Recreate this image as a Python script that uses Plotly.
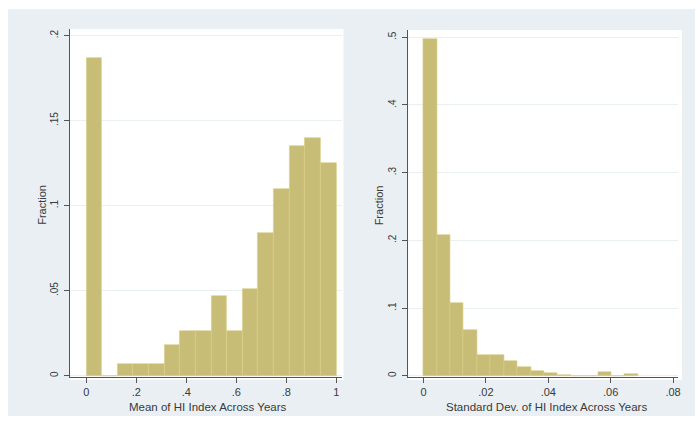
import plotly.graph_objects as go

# ---------------- data ----------------
mean_bin_left = [0.0, 0.0625, 0.125, 0.1875, 0.25, 0.3125, 0.375, 0.4375,
                 0.5, 0.5625, 0.625, 0.6875, 0.75, 0.8125, 0.875, 0.9375]
mean_bin_width = 0.0625
mean_fraction = [0.187, 0.0, 0.0067, 0.0067, 0.0067, 0.018, 0.026, 0.026,
                 0.047, 0.026, 0.051, 0.084, 0.110, 0.135, 0.140, 0.125]

sd_bin_left = [0.0, 0.0043, 0.0086, 0.0129, 0.0172, 0.0215, 0.0258, 0.0301,
               0.0344, 0.0387, 0.0430, 0.0473, 0.0516, 0.0559, 0.0602, 0.0645]
sd_bin_width = 0.0043
sd_fraction = [0.497, 0.208, 0.107, 0.068, 0.030, 0.030, 0.022, 0.013,
               0.0074, 0.004, 0.001, 0.0, 0.0, 0.006, 0.0, 0.003]

mean_xticks = [0, 0.2, 0.4, 0.6, 0.8, 1.0]
mean_xlabels = ["0", ".2", ".4", ".6", ".8", "1"]
mean_yticks = [0, 0.05, 0.1, 0.15, 0.2]
mean_ylabels = ["0", ".05", ".1", ".15", ".2"]

sd_xticks = [0, 0.02, 0.04, 0.06, 0.08]
sd_xlabels = ["0", ".02", ".04", ".06", ".08"]
sd_yticks = [0, 0.1, 0.2, 0.3, 0.4, 0.5]
sd_ylabels = ["0", ".1", ".2", ".3", ".4", ".5"]

# ---------------- style ----------------
W, H = 698, 423
BAR = "#c8bd77"
BAR_LINE = "#d8cf88"
BG = "#e9eff2"
GRID = "#eaeff2"
AXIS = "#555555"
TXT = "#3a3a3a"
FONT = "Liberation Sans"

def xdom(a, b):
    return [a / W, b / W]

def ydom(top, bottom):
    return [1 - bottom / H, 1 - top / H]

fig = go.Figure()
fig.add_trace(go.Bar(x=mean_bin_left, y=mean_fraction, width=mean_bin_width,
                     offset=0, marker=dict(color=BAR, line=dict(color=BAR_LINE, width=0.6)),
                     xaxis="x", yaxis="y", showlegend=False))
fig.add_trace(go.Bar(x=sd_bin_left, y=sd_fraction, width=sd_bin_width,
                     offset=0, marker=dict(color=BAR, line=dict(color=BAR_LINE, width=0.6)),
                     xaxis="x2", yaxis="y2", showlegend=False))

common_x = dict(showline=True, linecolor=AXIS, linewidth=1, ticks="outside",
                ticklen=5, tickcolor=AXIS, showgrid=False, zeroline=False,
                tickfont=dict(family=FONT, size=11, color=TXT))
common_y = dict(showline=True, linecolor=AXIS, linewidth=1, ticks="outside",
                ticklen=5, tickcolor=AXIS, showgrid=True, gridcolor=GRID,
                gridwidth=1, zeroline=False, tickangle=-90, ticklabelstandoff=2,
                tickfont=dict(family=FONT, size=10, color=TXT))

fig.update_layout(
    width=W, height=H, margin=dict(l=0, r=0, t=0, b=0),
    paper_bgcolor="white", plot_bgcolor="white", bargap=0,
    xaxis=dict(domain=xdom(70, 343), range=[-0.0665, 1.021], anchor="y",
               tickvals=mean_xticks, ticktext=mean_xlabels, **common_x),
    yaxis=dict(domain=ydom(29, 377), range=[-0.0008, 0.2039], anchor="x",
               tickvals=mean_yticks, ticktext=mean_ylabels, **common_y),
    xaxis2=dict(domain=xdom(410, 681), range=[-0.00488, 0.0816], anchor="y2",
                tickvals=sd_xticks, ticktext=sd_xlabels, **common_x),
    yaxis2=dict(domain=ydom(30, 377), range=[-0.0019, 0.5108], anchor="x2",
                tickvals=sd_yticks, ticktext=sd_ylabels, **common_y),
    shapes=[
        dict(type="rect", xref="paper", yref="paper", layer="below",
             x0=8 / W, x1=1, y0=1 - 416 / H, y1=1 - 9 / H,
             fillcolor=BG, line=dict(width=0)),
        dict(type="rect", xref="paper", yref="paper", layer="below",
             x0=70 / W, x1=345 / W, y0=1 - 380 / H, y1=1 - 29 / H,
             fillcolor="white", line=dict(width=0)),
        dict(type="rect", xref="paper", yref="paper", layer="below",
             x0=410 / W, x1=685 / W, y0=1 - 380 / H, y1=1 - 30 / H,
             fillcolor="white", line=dict(width=0)),
    ],
    annotations=[
        dict(text="Mean of HI Index Across Years", xref="paper", yref="paper",
             x=209 / W, y=1 - 407 / H, showarrow=False, xanchor="center",
             yanchor="middle", font=dict(family=FONT, size=11.5, color=TXT)),
        dict(text="Standard Dev. of HI Index Across Years", xref="paper", yref="paper",
             x=549 / W, y=1 - 407 / H, showarrow=False, xanchor="center",
             yanchor="middle", font=dict(family=FONT, size=11.5, color=TXT)),
        dict(text="Fraction", xref="paper", yref="paper", textangle=-90,
             x=42 / W, y=1 - 205 / H, showarrow=False, xanchor="center",
             yanchor="middle", font=dict(family=FONT, size=11, color=TXT)),
        dict(text="Fraction", xref="paper", yref="paper", textangle=-90,
             x=381 / W, y=1 - 205 / H, showarrow=False, xanchor="center",
             yanchor="middle", font=dict(family=FONT, size=11, color=TXT)),
    ],
)

fig.write_html("out.html")
